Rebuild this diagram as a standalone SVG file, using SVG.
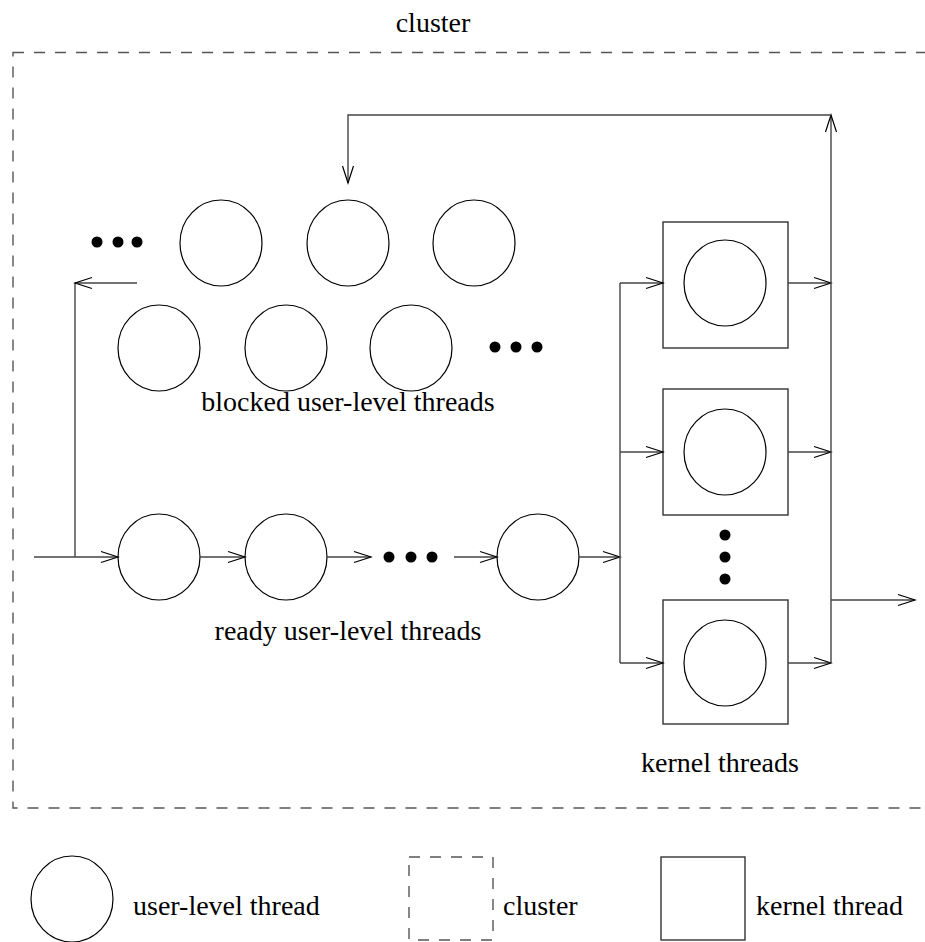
<svg xmlns="http://www.w3.org/2000/svg" width="925" height="942" viewBox="0 0 925 942">
<style>
.t{font-family:"Liberation Serif","Times New Roman",serif;font-size:28px;fill:#000}
.u{fill:#fff;stroke:#000;stroke-width:1.2}
.k{fill:none;stroke:#333;stroke-width:1.4}
.d{fill:none;stroke:#555;stroke-width:1.4;stroke-dasharray:11 10}
.c{fill:none;stroke:#444;stroke-width:1.4}
.dot{fill:#000}
</style>
<defs>
<marker id="ah" markerUnits="userSpaceOnUse" markerWidth="20" markerHeight="14" viewBox="-18 -7 20 14" refX="0" refY="0" orient="auto">
<path d="M-17,-5.5 L0,0 L-17,5.5" fill="none" stroke="#000" stroke-width="1.2"/>
</marker>
</defs>
<g id="cluster">
<rect class="d" x="13" y="52.5" width="1000" height="755.5"/>
<text class="t" x="433" y="32" text-anchor="middle">cluster</text>
</g>
<g id="blocked">
<ellipse class="u" cx="221" cy="243" rx="41" ry="43"/>
<ellipse class="u" cx="348" cy="243" rx="41" ry="43"/>
<ellipse class="u" cx="474" cy="243" rx="41" ry="43"/>
<ellipse class="u" cx="159" cy="348" rx="41" ry="43"/>
<ellipse class="u" cx="286" cy="348" rx="41" ry="43"/>
<ellipse class="u" cx="411" cy="348" rx="41" ry="43"/>
<circle class="dot" cx="97" cy="242" r="5.5"/>
<circle class="dot" cx="118" cy="242" r="5.5"/>
<circle class="dot" cx="137" cy="242" r="5.5"/>
<circle class="dot" cx="495" cy="347" r="5.5"/>
<circle class="dot" cx="516" cy="347" r="5.5"/>
<circle class="dot" cx="537" cy="347" r="5.5"/>
<text class="t" x="348" y="411" text-anchor="middle">blocked user-level threads</text>
</g>
<g id="ready">
<ellipse class="u" cx="159" cy="557" rx="41" ry="43"/>
<ellipse class="u" cx="286" cy="557" rx="41" ry="43"/>
<ellipse class="u" cx="538" cy="557" rx="41" ry="43"/>
<circle class="dot" cx="389" cy="557" r="5.5"/>
<circle class="dot" cx="411" cy="557" r="5.5"/>
<circle class="dot" cx="432" cy="557" r="5.5"/>
<text class="t" x="348" y="640" text-anchor="middle">ready user-level threads</text>
</g>
<g id="kernel1">
<rect class="k" x="663" y="222" width="125" height="126"/>
<ellipse class="u" cx="725" cy="283" rx="41" ry="43"/>
</g>
<g id="kernel2">
<rect class="k" x="663" y="389" width="125" height="126"/>
<ellipse class="u" cx="725" cy="452" rx="41" ry="43"/>
</g>
<g id="kernel3">
<rect class="k" x="663" y="600" width="125" height="124"/>
<ellipse class="u" cx="725" cy="663" rx="41" ry="43"/>
<circle class="dot" cx="725" cy="535" r="5.5"/>
<circle class="dot" cx="725" cy="557" r="5.5"/>
<circle class="dot" cx="725" cy="579" r="5.5"/>
<text class="t" x="720" y="772" text-anchor="middle">kernel threads</text>
</g>
<g id="connectors">
<path class="c" d="M34,557 L118,557" marker-end="url(#ah)"/>
<path class="c" d="M75,557 L75,283"/>
<path class="c" d="M137,283 L75,283" marker-end="url(#ah)"/>
<path class="c" d="M200,557 L245,557" marker-end="url(#ah)"/>
<path class="c" d="M327,557 L371,557" marker-end="url(#ah)"/>
<path class="c" d="M454,557 L497,557" marker-end="url(#ah)"/>
<path class="c" d="M579,557 L620,557" marker-end="url(#ah)"/>
<path class="c" d="M620,283 L620,663"/>
<path class="c" d="M620,283 L663,283" marker-end="url(#ah)"/>
<path class="c" d="M620,452 L663,452" marker-end="url(#ah)"/>
<path class="c" d="M620,663 L663,663" marker-end="url(#ah)"/>
<path class="c" d="M788,283 L831,283" marker-end="url(#ah)"/>
<path class="c" d="M788,452 L831,452" marker-end="url(#ah)"/>
<path class="c" d="M788,663 L831,663" marker-end="url(#ah)"/>
<path class="c" d="M831,663 L831,115" marker-end="url(#ah)"/>
<path class="c" d="M831,115 L348,115 L348,183" marker-end="url(#ah)"/>
<path class="c" d="M831,600 L915,600" marker-end="url(#ah)"/>
</g>
<g id="legend">
<ellipse class="u" cx="72" cy="899" rx="41" ry="43"/>
<text class="t" x="133" y="915">user-level thread</text>
<rect class="d" x="409" y="857" width="84" height="83"/>
<text class="t" x="503" y="915">cluster</text>
<rect class="k" x="661" y="857" width="84" height="83"/>
<text class="t" x="756" y="915">kernel thread</text>
</g>
</svg>
